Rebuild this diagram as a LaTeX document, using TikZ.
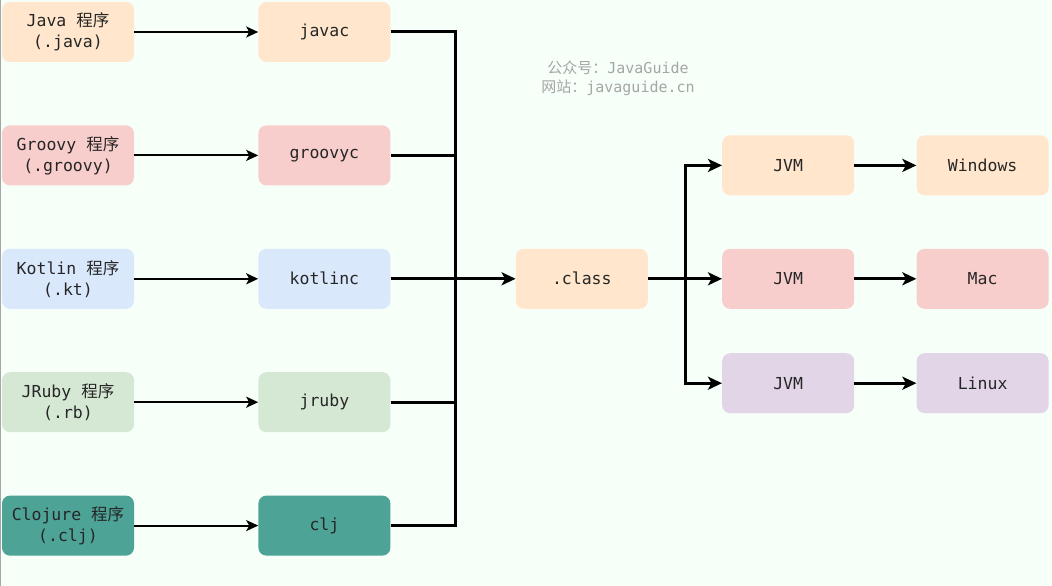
\documentclass[tikz,border=0pt]{standalone}
\usepackage{fontspec}
\setmonofont{DejaVu Sans Mono}
\newfontfamily\cjkfont{Noto Sans CJK SC}
\usepackage{tikz}
\usetikzlibrary{positioning,arrows.meta}

\definecolor{bgmint}{HTML}{F6FFF8}
\definecolor{peach}{HTML}{FFE6CC}
\definecolor{rose}{HTML}{F8CECC}
\definecolor{skyblue}{HTML}{DAE8FC}
\definecolor{sage}{HTML}{D5E8D4}
\definecolor{teal}{HTML}{4DA396}
\definecolor{lilac}{HTML}{E1D5E7}

\begin{document}
\begin{tikzpicture}[
    x=1pt, y=-1pt,
    box/.style={rectangle, rounded corners=8pt, minimum width=132pt, minimum height=60pt, text centered, align=center, text=black!85, font=\ttfamily\fontsize{16.5}{21}\selectfont},
    arrow/.style={line width=2pt,-{Stealth[length=12pt,width=11pt,inset=3pt]}},
    bigarrow/.style={line width=3pt,-{Stealth[length=14pt,width=13pt,inset=3.5pt]}},
    busline/.style={line width=3pt}
]

% Background
\fill[bgmint] (0,0) rectangle (1052,586);
\useasboundingbox (0,0) rectangle (1052,586);
\draw[black!35, line width=1.2pt] (0.6,0) -- (0.6,586);

% Watermark
\node (mark) [align=center, text=black!35, font=\ttfamily\fontsize{15}{19}\selectfont] at (618,78)
    {{\cjkfont 公众号：}JavaGuide\\{\cjkfont 网站：}javaguide.cn};

% Source programs
\node (java) [box, fill=peach] at (68,32) {Java {\cjkfont 程序}\\(.java)};
\node (groovy) [box, fill=rose, below=63pt of java] {Groovy {\cjkfont 程序}\\(.groovy)};
\node (kotlin) [box, fill=skyblue, below=63pt of groovy] {Kotlin {\cjkfont 程序}\\(.kt)};
\node (jrb) [box, fill=sage, below=63pt of kotlin] {JRuby {\cjkfont 程序}\\(.rb)};
\node (clojure) [box, fill=teal, below=63pt of jrb] {Clojure {\cjkfont 程序}\\(.clj)};

% Compilers
\node (javac) [box, fill=peach, right=124pt of java] {javac};
\node (groovyc) [box, fill=rose, right=124pt of groovy] {groovyc};
\node (kotlinc) [box, fill=skyblue, right=124pt of kotlin] {kotlinc};
\node (jruby) [box, fill=sage, right=124pt of jrb] {jruby};
\node (clj) [box, fill=teal, right=124pt of clojure] {clj};

% Bytecode
\node (class) [box, fill=peach, right=125pt of kotlinc] {.class};

% JVMs and platforms
\node (jvmb) [box, fill=rose, right=74pt of class] {JVM};
\node (jvma) [box, fill=peach, above=53pt of jvmb] {JVM};
\node (jvmc) [box, fill=lilac, below=44pt of jvmb] {JVM};
\node (win) [box, fill=peach, right=62pt of jvma] {Windows};
\node (mac) [box, fill=rose, right=62pt of jvmb] {Mac};
\node (linux) [box, fill=lilac, right=62pt of jvmc] {Linux};

% Flow arrows
\draw [arrow] (java) -- (javac);
\draw [arrow] (groovy) -- (groovyc);
\draw [arrow] (kotlin) -- (kotlinc);
\draw [arrow] (jrb) -- (jruby);
\draw [arrow] (clojure) -- (clj);

% Collecting line
\coordinate [right=65pt of javac.east] (bus);
\draw [busline] (javac) -- (bus) |- (clj);
\draw [busline] (groovyc) -- (groovyc -| bus);
\draw [busline] (jruby) -- (jruby -| bus);
\draw [bigarrow] (kotlinc) -- (class);

% Fork to the JVMs
\coordinate [right=37pt of class.east] (fork);
\draw [bigarrow] (class) -- (jvmb);
\draw [bigarrow] (fork) |- (jvma);
\draw [bigarrow] (fork) |- (jvmc);

\draw [bigarrow] (jvma) -- (win);
\draw [bigarrow] (jvmb) -- (mac);
\draw [bigarrow] (jvmc) -- (linux);

\end{tikzpicture}
\end{document}
